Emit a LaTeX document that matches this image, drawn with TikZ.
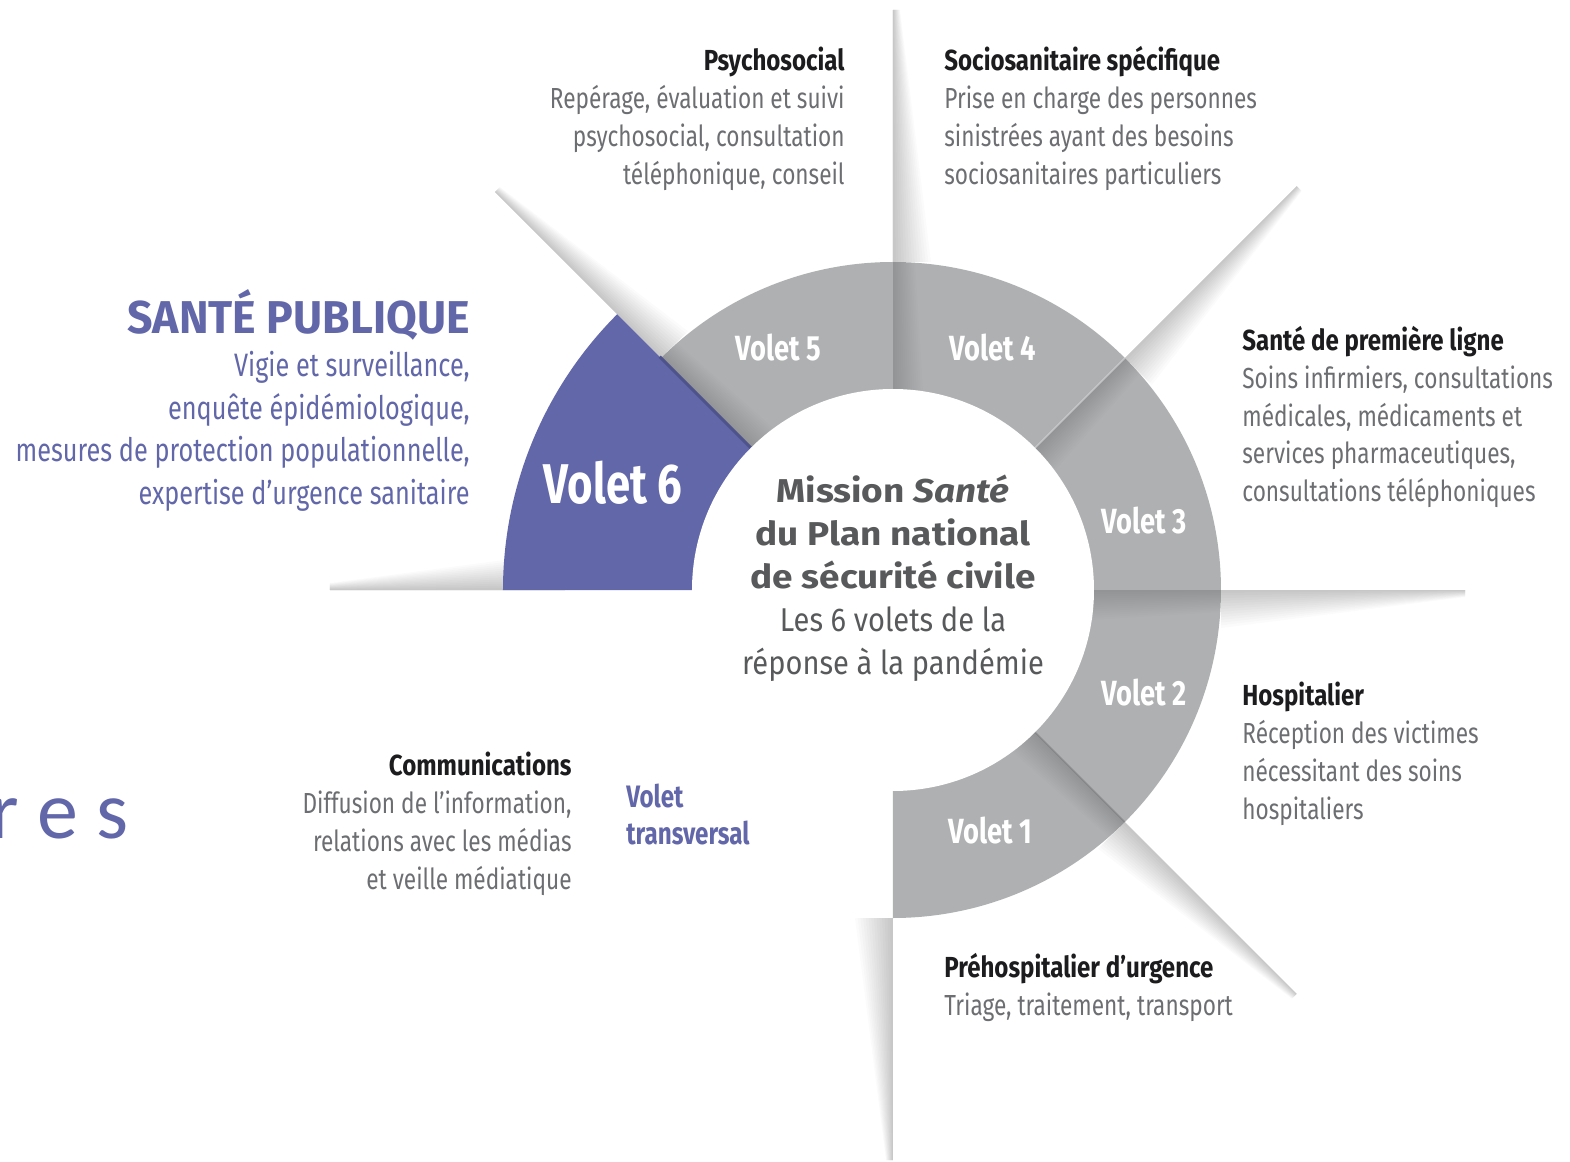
\documentclass[tikz,border=0pt]{standalone}
\usepackage{fontspec}
\setmainfont{Fira Sans}[FakeStretch=0.78]
\newfontfamily\titlefont{Fira Sans}[FakeStretch=0.83]
\newfontfamily\hubfont{Fira Sans}[FakeStretch=1.12]
\newfontfamily\midfont{Fira Sans}[FakeStretch=0.88]
\newfontfamily\capsfont{Fira Sans}[FakeStretch=0.97]
\newfontfamily\calfont{Carlito}
\definecolor{purplesix}{RGB}{97,103,169}
\definecolor{purpledark}{RGB}{78,83,140}
\definecolor{ringgray}{RGB}{175,176,178}
\definecolor{bodygray}{RGB}{109,110,113}
\definecolor{titleblack}{RGB}{28,28,30}
\definecolor{hubgray}{RGB}{88,89,91}

% one soft shadow wedge along a radial line, fading on its clockwise side
% #1 angle, #2 inner radius, #3 outer radius, #4 inner width, #5 outer width, #6 opacity per layer
\newcommand\shadewedge[6]{%
  \begin{scope}[rotate=#1]
    \foreach \k in {1,...,14}{
      \fill[black, fill opacity=#6] (#2,0) -- (#3,0) -- (#3,{-#5*\k/14}) -- (#2,{-#4*\k/14}) -- cycle;
    }
  \end{scope}}
% bold heading of a description block
\newcommand\blocktitle[1]{\textcolor{titleblack}{\titlefont\bfseries #1}}

\tikzset{
  body/.style={inner sep=0, text=bodygray, font=\fontsize{14.5}{19}\selectfont},
  volet/.style={inner sep=0, text=white, font=\bfseries\fontsize{17.5}{20}\selectfont},
  purpletext/.style={inner sep=0, text=purplesix},
}

\begin{document}
\begin{tikzpicture}[x=0.5pt,y=0.5pt]
\useasboundingbox (-893,-572) rectangle (677,590);
\fill[white] (-893,-572) rectangle (677,590);

% outer rays
\shadewedge{90}{328}{580}{38}{7}{0.017}
\shadewedge{45}{328}{571}{38}{7}{0.017}
\shadewedge{0}{328}{572}{38}{7}{0.017}
\shadewedge{-45}{328}{571}{38}{7}{0.017}
\shadewedge{-90}{328}{570}{38}{7}{0.017}
\shadewedge{180}{328}{563}{38}{7}{0.017}
\shadewedge{135}{328}{563}{38}{7}{0.017}

% grey ring, volets 1 to 5
\fill[ringgray] (-90:200) arc[start angle=-90,end angle=135,radius=200]
  -- (135:328) arc[start angle=135,end angle=-90,radius=328] -- cycle;
\begin{scope}
  \clip (0,0) circle (328);
  \foreach \a in {135,90,45,0,-45}{\shadewedge{\a}{200}{330}{30}{22}{0.008}}
\end{scope}
\draw[white, opacity=0.35, line width=0.8pt] (45:200) -- (45:328);
\draw[black, opacity=0.12, line width=0.8pt] (-45:200) -- (-45:328);

% volet 6
\fill[purplesix] (135:200) arc[start angle=135,end angle=180,radius=200]
  -- (180:390) arc[start angle=180,end angle=135,radius=390] -- cycle;
\draw[purpledark, line width=1.5pt] (135:201) -- (135:330);

% central disk
\fill[white] (0,0) circle (201);

% hub text (base anchors sit on the last line)
\node[inner sep=0, text=hubgray, align=center, anchor=base,
      font=\hubfont\bfseries\fontsize{16.5}{21.5}\selectfont] (mission) at (0,2)
  {Mission \textit{Santé}\\du Plan national\\de sécurité civile};
\node[inner sep=0, text=hubgray, align=center, anchor=base,
      font=\midfont\fontsize{16.5}{21.5}\selectfont] (volets) at (0,-84)
  {Les 6 volets de la\\réponse à la pandémie};

% volet labels
\node[volet] (v5) at (-115,242) {Volet 5};
\node[volet] (v4) at (100,242) {Volet 4};
\node[volet] (v3) at (251,69) {Volet 3};
\node[volet] (v2) at (251,-103) {Volet 2};
\node[volet] (v1) at (97,-241) {Volet 1};
\node[inner sep=0, text=white, font=\bfseries\fontsize{28}{32}\selectfont] (v6) at (-280,107) {Volet 6};

% descriptions
\node[body, anchor=base east, align=right] (psy) at (-48,405)
  {\blocktitle{Psychosocial}\\Repérage, évaluation et suivi\\psychosocial, consultation\\téléphonique, conseil};
\node[body, anchor=base west, align=left] (socio) at (51,405)
  {\blocktitle{Sociosanitaire spécifique}\\Prise en charge des personnes\\sinistrées ayant des besoins\\sociosanitaires particuliers};
\node[body, anchor=base west, align=left] (ligne) at (349,88)
  {\blocktitle{Santé de première ligne}\\Soins infirmiers, consultations\\médicales, médicaments et\\services pharmaceutiques,\\consultations téléphoniques};
\node[body, anchor=base west, align=left] (hosp) at (349,-229)
  {\blocktitle{Hospitalier}\\Réception des victimes\\nécessitant des soins\\hospitaliers};
\node[body, anchor=base west, align=left] (prehosp) at (51,-425)
  {\blocktitle{Préhospitalier d’urgence}\\Triage, traitement, transport};
\node[body, anchor=base east, align=right] (comm) at (-321,-299)
  {\blocktitle{Communications}\\Diffusion de l’information,\\relations avec les médias\\et veille médiatique};
\node[purpletext, anchor=base west, align=left, font=\bfseries\fontsize{15.5}{18.5}\selectfont] (transv) at (-267,-254)
  {Volet\\transversal};

% santé publique
\node[purpletext, anchor=base east, font=\capsfont\bfseries\fontsize{23}{26}\selectfont] (sp) at (-423,256) {SANTÉ PUBLIQUE};
\node[purpletext, anchor=base east, align=right, font=\fontsize{16.2}{21.25}\selectfont] (spdesc) at (-423,85.5)
  {Vigie et surveillance,\\enquête épidémiologique,\\mesures de protection populationnelle,\\expertise d’urgence sanitaire};

% fragment at the left edge
\node[purpletext, anchor=base west, font=\calfont\fontsize{41}{48}\selectfont] (res) at (-903,-248) {r e s};
\end{tikzpicture}
\end{document}
